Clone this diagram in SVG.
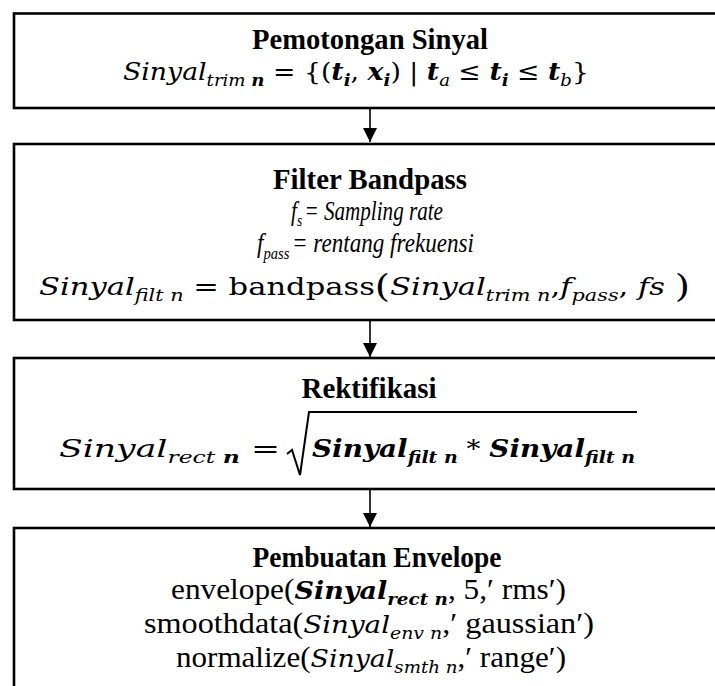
<svg xmlns="http://www.w3.org/2000/svg" width="715" height="686" viewBox="0 0 715 686">
<style>
.box{fill:#fff;stroke:#000;stroke-width:2.6}
.con{stroke:#000;stroke-width:1.6;fill:none}
.t{font-family:"Liberation Serif",serif;font-weight:bold;font-size:30px;text-anchor:middle}
.m{font-family:"DejaVu Serif",serif;font-style:italic;font-size:25px}
.tm{font-family:"Liberation Serif",serif;font-size:29px}
.tm2{font-family:"Liberation Serif",serif;font-size:27px;font-style:italic}
.dv{font-family:"DejaVu Serif",serif;font-size:25px}
.i{font-style:italic}
.r{font-style:normal}
.b{font-weight:bold}
.s{font-size:17px}
.rad{fill:none;stroke:#000;stroke-width:2}
</style>
<defs>
<marker id="ah" markerWidth="14" markerHeight="14" refX="14" refY="7" orient="auto" markerUnits="userSpaceOnUse"><path d="M0,0 L14,7 L0,14 z" fill="#000"/></marker>
</defs>
<rect width="715" height="686" fill="#fff"/>
<g id="connectors">
<line class="con" x1="370" y1="108" x2="370" y2="142" marker-end="url(#ah)"/>
<line class="con" x1="370" y1="320" x2="370" y2="357" marker-end="url(#ah)"/>
<line class="con" x1="370" y1="489" x2="370" y2="527" marker-end="url(#ah)"/>
</g>
<g id="node1">
<rect class="box" x="14" y="13.5" width="720" height="94.5"/>
<text class="t" x="370" y="49" textLength="236" lengthAdjust="spacingAndGlyphs">Pemotongan Sinyal</text>
<text class="m" x="123" y="80" textLength="466" lengthAdjust="spacingAndGlyphs">Sinyal<tspan class="s" dy="6">trim </tspan><tspan class="s b">n</tspan><tspan class="r" dy="-6"> = {(</tspan><tspan class="b">t</tspan><tspan class="s b" dy="6">i</tspan><tspan class="r" dy="-6">, </tspan><tspan class="b">x</tspan><tspan class="s b" dy="6">i</tspan><tspan class="r" dy="-6">) | </tspan><tspan class="b">t</tspan><tspan class="s" dy="6">a</tspan><tspan class="r" dy="-6">  ≤ </tspan><tspan class="b">t</tspan><tspan class="s b" dy="6">i</tspan><tspan class="r" dy="-6"> ≤ </tspan><tspan class="b">t</tspan><tspan class="s" dy="6">b</tspan><tspan class="r" dy="-6">}</tspan></text>
</g>
<g id="node2">
<rect class="box" x="14" y="144" width="720" height="176"/>
<text class="t" x="370" y="189" textLength="194" lengthAdjust="spacingAndGlyphs">Filter Bandpass</text>
<text class="tm2" x="291" y="220" textLength="152" lengthAdjust="spacingAndGlyphs">f<tspan class="s" dy="6">s</tspan><tspan dy="-6" dx="3">= Sampling rate</tspan></text>
<text class="tm2" x="257" y="252" textLength="217" lengthAdjust="spacingAndGlyphs">f<tspan class="s" dy="7">pass</tspan><tspan dy="-7" dx="3">= rentang frekuensi</tspan></text>
<text class="m" x="39" y="295" textLength="651" lengthAdjust="spacingAndGlyphs">Sinyal<tspan class="s" dy="6">filt n</tspan><tspan class="r" dy="-6"> = bandpass</tspan><tspan class="r" font-size="32" dy="2">(</tspan><tspan dy="-2">Sinyal</tspan><tspan class="s" dy="6">trim n</tspan><tspan class="r" dy="-6">,</tspan>f<tspan class="s" dy="6">pass</tspan><tspan class="r" dy="-6">, </tspan>fs <tspan class="r" font-size="32" dy="2">)</tspan></text>
</g>
<g id="node3">
<rect class="box" x="14" y="358" width="720" height="131"/>
<text class="t" x="369" y="398" textLength="135" lengthAdjust="spacingAndGlyphs">Rektifikasi</text>
<text class="m" x="59" y="457" textLength="221" lengthAdjust="spacingAndGlyphs">Sinyal<tspan class="s" dy="6">rect </tspan><tspan class="s b">n</tspan><tspan class="r" dy="-6"> =</tspan></text>
<path class="rad" d="M287,454 L292,450 L300,475 L309,412 L637,412"/>
<text class="m b" x="312" y="457" textLength="323" lengthAdjust="spacingAndGlyphs">Sinyal<tspan class="s" dy="6">filt n</tspan><tspan class="r" font-weight="normal" dy="-6"> * </tspan>Sinyal<tspan class="s" dy="6">filt n</tspan></text>
</g>
<g id="node4">
<rect class="box" x="14" y="528" width="720" height="200"/>
<text class="t" x="377" y="567" textLength="249" lengthAdjust="spacingAndGlyphs">Pembuatan Envelope</text>
<text class="tm" x="171" y="599" textLength="395" lengthAdjust="spacingAndGlyphs">envelope(<tspan class="dv b i">Sinyal</tspan><tspan class="dv s b i" dy="6">rect n</tspan><tspan dy="-6">, 5,′ rms′)</tspan></text>
<text class="tm" x="144" y="633" textLength="450" lengthAdjust="spacingAndGlyphs">smoothdata(<tspan class="dv i">Sinyal</tspan><tspan class="dv s i" dy="6">env n</tspan><tspan dy="-6">,′ gaussian′)</tspan></text>
<text class="tm" x="176" y="667" textLength="390" lengthAdjust="spacingAndGlyphs">normalize(<tspan class="dv i">Sinyal</tspan><tspan class="dv s i" dy="6">smth n</tspan><tspan dy="-6">,′ range′)</tspan></text>
</g>
</svg>
